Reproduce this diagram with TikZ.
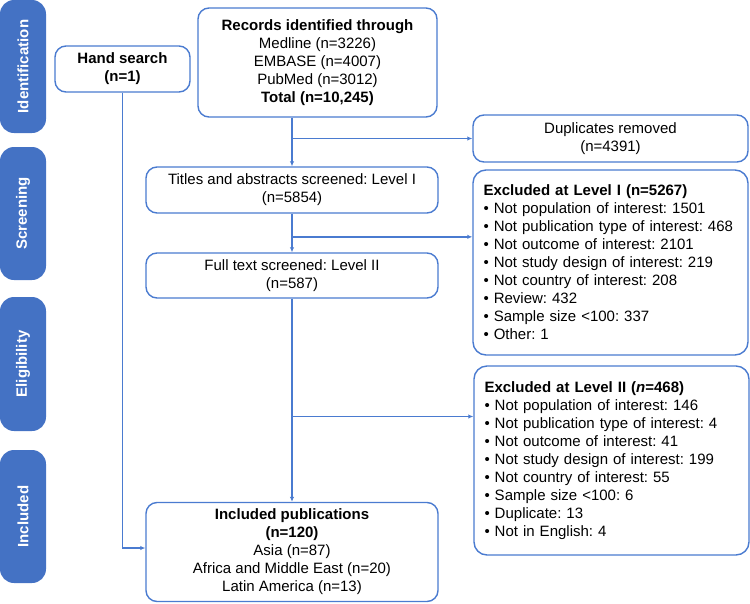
\documentclass[tikz,border=0pt]{standalone}
\usepackage{fontspec}
\setmainfont{Liberation Sans}
\frenchspacing
\usetikzlibrary{arrows.meta,positioning,calc}
\definecolor{phaseblue}{HTML}{4472C4}
\definecolor{edge}{HTML}{4A7BD0}
\newcommand{\txt}{\fontsize{15}{18}\selectfont}
\tikzset{
  phase/.style={fill=phaseblue, rounded corners=14pt, rotate=90, text=white,
    font=\txt\bfseries, minimum height=46pt, inner sep=0pt},
  record/.style={draw=edge, fill=white, rounded corners=11pt, line width=1.4pt,
    align=center, inner sep=0pt, font=\txt},
  exclist/.style={draw=edge, fill=white, rounded corners=13pt, line width=1.4pt,
    align=left, text width=254pt, inner xsep=10.5pt, inner ysep=0pt, font=\txt},
  flow/.style={-{Latex[length=5pt,width=4.5pt]}, draw=edge, line width=1.3pt},
}

\begin{document}
\begin{tikzpicture}[x=1pt,y=-1pt]
\useasboundingbox (0,0) rectangle (750,603);

% phases
\node[phase, minimum width=133pt] (idph) at (23,66.5) {Identification};
\node[phase, minimum width=133pt] (scph) at (23,213.5) {Screening};
\node[phase, minimum width=134pt] (elph) at (23,364) {Eligibility};
\node[phase, minimum width=133pt] (inph) at (23,516.5) {Included};

% boxes
\node[record, minimum width=135pt, minimum height=46pt] (hand) at (122.5,69)
  {\textbf{Hand search}\\\textbf{(n=1)}};
\node[record, minimum width=239pt, minimum height=109pt] (recs) at (317.5,62.5)
  {\textbf{Records identified through}\\Medline (n=3226)\\EMBASE (n=4007)\\PubMed (n=3012)\\\textbf{Total (n=10,245)}};
\node[record, minimum width=275pt, minimum height=47pt] (dups) at (610.5,138.5)
  {Duplicates removed\\(n=4391)};
\node[record, minimum width=292pt, minimum height=46pt] (lvlone) at (292,190)
  {Titles and abstracts screened: Level I\\(n=5854)};
\node[record, minimum width=292pt, minimum height=45pt] (lvltwo) at (292,275.5)
  {Full text screened: Level II\\(n=587)};
\node[exclist, minimum height=185pt] (excone) at (610.5,262.5)
  {\textbf{Excluded at Level I (n=5267)}\\
   • Not population of interest: 1501\\
   • Not publication type of interest: 468\\
   • Not outcome of interest: 2101\\
   • Not study design of interest: 219\\
   • Not country of interest: 208\\
   • Review: 432\\
   • Sample size <100: 337\\
   • Other: 1};
\node[exclist, minimum height=189pt] (exctwo) at (611.5,460.5)
  {\textbf{Excluded at Level II (\textit{n}=468)}\\
   • Not population of interest: 146\\
   • Not publication type of interest: 4\\
   • Not outcome of interest: 41\\
   • Not study design of interest: 199\\
   • Not country of interest: 55\\
   • Sample size <100: 6\\
   • Duplicate: 13\\
   • Not in English: 4};
\node[record, minimum width=292pt, minimum height=99pt] (incl) at (292,552)
  {\textbf{Included publications}\\\textbf{(n=120)}\\Asia (n=87)\\Africa and Middle East (n=20)\\Latin America (n=13)};

% connectors
\draw[flow] (recs.south -| lvlone.north) -- (lvlone.north);
\draw[flow] (lvlone.north |- dups.west) -- (dups.west);
\coordinate (jone) at ($(lvlone.south)!0.6!(lvltwo.north)$);
\draw[flow] (lvlone) -- (lvltwo);
\draw[flow] (jone) -- (jone -| excone.west);
\coordinate (jtwo) at ($(lvltwo.south)!0.58!(incl.north)$);
\draw[flow] (lvltwo) -- (incl);
\draw[flow] (jtwo) -- (jtwo -| exctwo.west);
\draw[flow] (hand.south) |- ([yshift=4pt]incl.west);

\end{tikzpicture}
\end{document}
